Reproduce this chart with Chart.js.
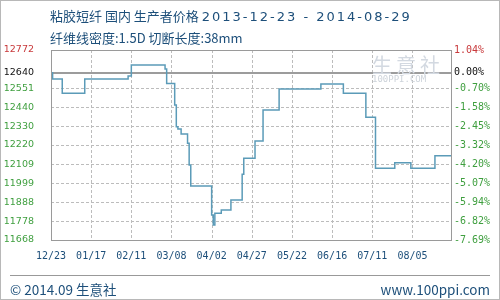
<!DOCTYPE html>
<html>
<head>
<meta charset="utf-8">
<script src="https://cdn.jsdelivr.net/npm/chart.js@4.4.0/dist/chart.umd.min.js"></script>
<style>
  html, body { margin: 0; padding: 0; background: #fff; }
  #wrap { position: relative; width: 500px; height: 300px; overflow: hidden; }
  #c { position: absolute; left: 0; top: 0; }
  #frame { position: absolute; left: 0; top: 0; width: 500px; height: 300px; box-sizing: border-box; border: 1px solid #b8b8b8; pointer-events: none; }
  .t { position: absolute; color: #1d4f7a; font-family: "Noto Sans CJK SC", "DejaVu Sans", sans-serif; white-space: nowrap; }
  .wm { position: absolute; white-space: nowrap; font-family: "Noto Sans CJK SC", sans-serif; }
</style>
</head>
<body>
<div id="wrap">
  <canvas id="c" width="500" height="300" style="width:500px;height:300px;"></canvas>
  <div id="frame"></div>
  <div class="wm" style="left:372px; top:50px; font-size:20px; color:#d3d9e1; letter-spacing:4px;">生意社</div>
  <div class="wm" style="left:372px; top:74px; font-size:9px; color:#cdd3da; font-family:'DejaVu Sans Mono',monospace;">100PPI.COM</div>
  <div class="t" style="left:50px; top:6px; font-size:13px;">粘胶短纤 国内 生产者价格 <span style="font-family:'DejaVu Sans',sans-serif; letter-spacing:2px;">2013-12-23 - 2014-08-29</span></div>
  <div class="t" style="left:50px; top:28px; font-size:13px;">纤维线密度:1.5D 切断长度:38mm</div>
  <div style="position:absolute; left:10px; top:275px; width:480px; height:0; border-top:1px solid #999;"></div>
  <div class="t" style="left:10px; top:279px; font-size:13.5px;">© 2014.09 生意社</div>
  <div class="t" style="right:10px; top:279px; font-size:13.5px;">www.100ppi.com</div>
</div>
<script>
// Day offsets from 2013-12-23 where the price changes, and the price from that day on
const changeDays = [0, 1, 7, 21, 48, 50, 71, 72, 77, 78, 79, 81, 85, 86, 87, 100, 101, 102, 106, 112, 119, 120, 127, 132, 142, 168, 182, 196, 202, 214, 224, 239, 249];
const prices =     [12640, 12603, 12520, 12603, 12621, 12685, 12662, 12578, 12452, 12326, 12313, 12284, 12230, 12104, 11982, 11813, 11755, 11823, 11842, 11900, 12050, 12143, 12243, 12423, 12545, 12575, 12520, 12381, 12085, 12117, 12085, 12158, 12158];

const xTickDays = [0, 25, 50, 75, 100, 125, 150, 175, 200, 225];
const xTickLabels = ["12/23", "01/17", "02/11", "03/08", "04/02", "04/27", "05/22", "06/16", "07/11", "08/05"];

const yTicks = [12772, 12640, 12551, 12440, 12330, 12220, 12109, 11999, 11888, 11778, 11668];
const pctLabels = ["1.04%", "0.00%", "-0.70%", "-1.58%", "-2.45%", "-3.32%", "-4.20%", "-5.07%", "-5.94%", "-6.82%", "-7.69%"];
const basePrice = 12640;

const RED = "#c8393b", GREEN = "#3f9f3f", BLACK = "#111";
function tickColor(ctx) {
  const v = ctx.tick && ctx.tick.value;
  if (v === yTicks[0]) return RED;
  if (v === basePrice) return BLACK;
  return GREEN;
}

// Dashed grid drawn as short segments at positions from the library's scales, solid 0.00% line, plot frame
const framePlugin = {
  id: "frame",
  beforeDatasetsDraw(chart) {
    const ctx = chart.ctx;
    const a = chart.chartArea;
    const ys = chart.scales.y, xs = chart.scales.x;
    ctx.save();
    ctx.strokeStyle = "#bcbcbc";
    ctx.lineWidth = 1;
    yTicks.forEach(function (v) {
      const y = Math.round(ys.getPixelForValue(v)) + 0.5;
      let x = a.left;
      while (x < a.right) {
        ctx.beginPath();
        ctx.moveTo(x, y);
        ctx.lineTo(Math.min(x + 3, a.right), y);
        ctx.stroke();
        x += 5;
      }
    });
    xTickDays.forEach(function (d) {
      const x = Math.round(xs.getPixelForValue(d)) + 0.5;
      let y = a.top;
      while (y < a.bottom) {
        ctx.beginPath();
        ctx.moveTo(x, y);
        ctx.lineTo(x, Math.min(y + 3, a.bottom));
        ctx.stroke();
        y += 5;
      }
    });
    const y0 = Math.round(ys.getPixelForValue(basePrice));
    ctx.strokeStyle = "#9c9c9c";
    ctx.lineWidth = 2;
    ctx.beginPath(); ctx.moveTo(a.left, y0); ctx.lineTo(a.right, y0); ctx.stroke();
    ctx.restore();
  },
  afterDraw(chart) {
    const { ctx, chartArea: a } = chart;
    ctx.save();
    ctx.strokeStyle = "#9a9a9a";
    ctx.lineWidth = 1;
    ctx.strokeRect(Math.round(a.left) + 0.5, Math.round(a.top) + 0.5, Math.round(a.right - a.left), Math.round(a.bottom - a.top));
    ctx.restore();
  }
};

new Chart(document.getElementById("c"), {
  type: "line",
  data: {
    datasets: [{
      data: changeDays.map((d, i) => ({ x: d, y: prices[i] })),
      stepped: true,
      borderColor: "#5b9bb8",
      borderWidth: 1.5,
      pointRadius: 0,
      fill: false
    }]
  },
  options: {
    responsive: false,
    animation: false,
    events: [],
    layout: { autoPadding: false, padding: { left: 4, right: 10, top: 50, bottom: 37 } },
    plugins: { legend: { display: false }, tooltip: { enabled: false }, title: { display: false } },
    scales: {
      x: {
        type: "linear",
        min: 0,
        max: 249,
        afterBuildTicks(scale) { scale.ticks = xTickDays.map(v => ({ value: v })); },
        afterFit(scale) { scale.height = 23; scale.paddingLeft = 0; scale.paddingRight = 0; },
        ticks: {
          autoSkip: false,
          maxRotation: 0,
          padding: 10,
          color: "#1d4f7a",
          font: { family: "DejaVu Sans Mono", size: 10 },
          callback(value) { const i = xTickDays.indexOf(value); return i >= 0 ? xTickLabels[i] : ""; }
        },
        grid: { display: false, drawTicks: false },
        border: { display: false }
      },
      y: {
        type: "linear",
        position: "left",
        min: 11668,
        max: 12772,
        afterBuildTicks(scale) { scale.ticks = yTicks.slice().reverse().map(v => ({ value: v })); },
        afterFit(scale) { scale.width = 47; scale.paddingTop = 0; scale.paddingBottom = 0; },
        ticks: {
          autoSkip: false,
          padding: 17,
          color: tickColor,
          font: { family: "DejaVu Sans", size: 9.5 },
          callback(value) { return String(value); }
        },
        grid: { display: false, drawTicks: false },
        border: { display: false }
      },
      y2: {
        type: "linear",
        position: "right",
        min: 11668,
        max: 12772,
        afterBuildTicks(scale) { scale.ticks = yTicks.slice().reverse().map(v => ({ value: v })); },
        afterFit(scale) { scale.width = 39; scale.paddingTop = 0; scale.paddingBottom = 0; },
        ticks: {
          autoSkip: false,
          padding: 3,
          color: tickColor,
          font: { family: "DejaVu Sans Mono", size: 10 },
          callback(value) { const i = yTicks.indexOf(value); return i >= 0 ? pctLabels[i] : ""; }
        },
        grid: { display: false, drawTicks: false },
        border: { display: false }
      }
    }
  },
  plugins: [framePlugin]
});
</script>
</body>
</html>
